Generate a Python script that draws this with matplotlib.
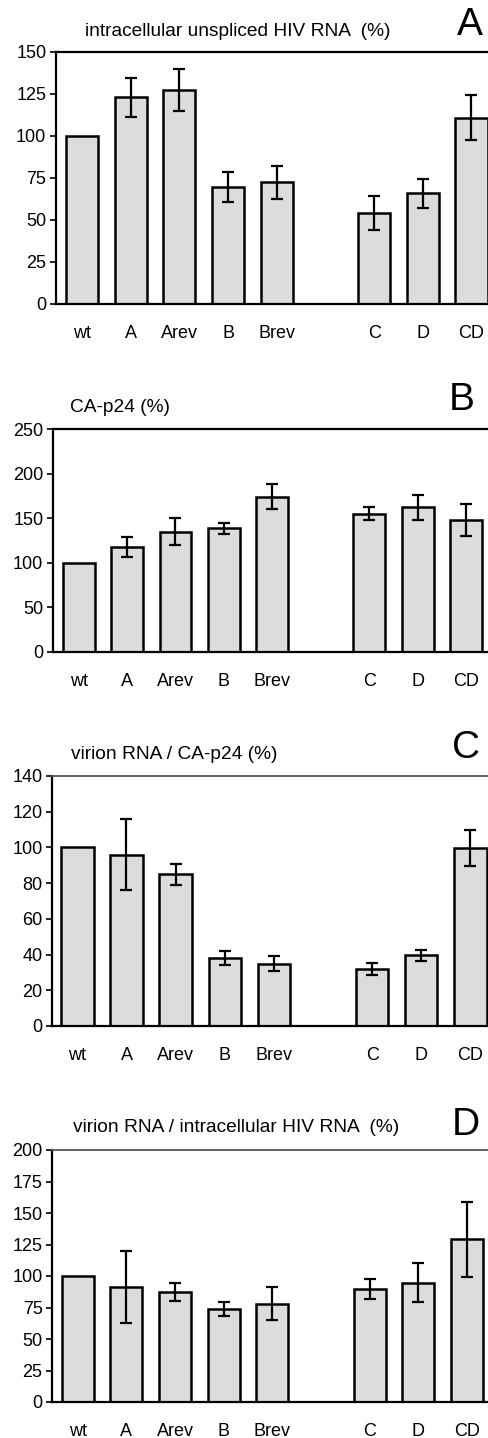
import matplotlib
matplotlib.use("Agg")
import matplotlib.pyplot as plt
import numpy as np

plt.rcParams['font.family'] = ['Liberation Sans', 'DejaVu Sans']

categories = ["wt", "A", "Arev", "B", "Brev", "C", "D", "CD"]
positions = [0, 1, 2, 3, 4, 6, 7, 8]

titles = ["intracellular unspliced HIV RNA  (%)", "CA-p24 (%)",
          "virion RNA / CA-p24 (%)", "virion RNA / intracellular HIV RNA  (%)"]
letters = ["A", "B", "C", "D"]

vals_A = [100, 123, 127.4, 69.6, 72.4, 54, 65.8, 111]
err_A = [0, 11.5, 12.3, 9, 10, 10, 8.5, 13.3]
vals_B = [100, 117.5, 135, 138.5, 174, 155, 162, 148]
err_B = [0, 11, 15, 6.5, 14, 7, 14, 17.5]
vals_C = [100, 96, 85, 38, 35, 32, 39.6, 99.8]
err_C = [0, 20, 6, 4, 4.3, 3.2, 3, 10]
vals_D = [100, 91, 87.3, 73.5, 78, 89.8, 94.7, 129]
err_D = [0, 28.5, 7, 5.5, 13, 8, 15.6, 29.6]

ymax = [150, 250, 140, 200]
ystep = [25, 50, 20, 25]

W, H = 489, 1438
fig = plt.figure(figsize=(W / 100, H / 100), dpi=100)

# layout in pixels: left, top, bottom, xlim-left, xlim-right
layout = [
    (56, 52, 304, -0.534, 8.36),
    (53, 429, 652, -0.53, 8.475),
    (52.3, 776, 1026, -0.51, 8.38),
    (52.3, 1150, 1402, -0.52, 8.45),
]
title_pos = [(238, 32, 'center'), (70, 408, 'left'), (71, 755, 'left'), (73, 1128, 'left')]
letter_pos = [(470, 25), (462, 400), (466, 748), (466, 1125)]

all_vals = [vals_A, vals_B, vals_C, vals_D]
all_errs = [err_A, err_B, err_C, err_D]

for i in range(4):
    left, top, bot, xl, xr = layout[i]
    ax = fig.add_axes([left / W, 1 - bot / H, 1 - left / W, (bot - top) / H])
    ax.bar(positions, all_vals[i], width=0.66, color='#dcdcdc', edgecolor='black',
           linewidth=1.8, zorder=2)
    errs = all_errs[i]
    pos_e = [p for p, e in zip(positions, errs) if e > 0]
    v_e = [v for v, e in zip(all_vals[i], errs) if e > 0]
    e_e = [e for e in errs if e > 0]
    ax.errorbar(pos_e, v_e, yerr=e_e, fmt='none', ecolor='black', elinewidth=1.6,
                capsize=4.5, capthick=1.6, zorder=3)
    ax.set_xlim(xl, xr)
    ax.set_ylim(0, ymax[i])
    ax.set_yticks(np.arange(0, ymax[i] + 1, ystep[i]))
    ax.set_xticks(positions)
    ax.set_xticklabels(categories)
    ax.tick_params(axis='x', length=0, pad=15, labelsize=13)
    ax.tick_params(axis='y', length=4, width=1.2, pad=3, labelsize=13, direction='out')
    ax.spines['right'].set_visible(False)
    ax.spines['left'].set_linewidth(1.6)
    ax.spines['bottom'].set_linewidth(1.6)
    if i < 2:
        ax.spines['top'].set_linewidth(1.6)
        ax.spines['top'].set_color('black')
    else:
        ax.spines['top'].set_linewidth(1.3)
        ax.spines['top'].set_color('#555555')
    tx, ty, ha = title_pos[i]
    fig.text(tx / W, 1 - ty / H, titles[i], ha=ha, va='center', fontsize=13.8)
    lx, ly = letter_pos[i]
    fig.text(lx / W, 1 - ly / H, letters[i], ha='center', va='center', fontsize=28)

fig.savefig("out.png", dpi=100)
